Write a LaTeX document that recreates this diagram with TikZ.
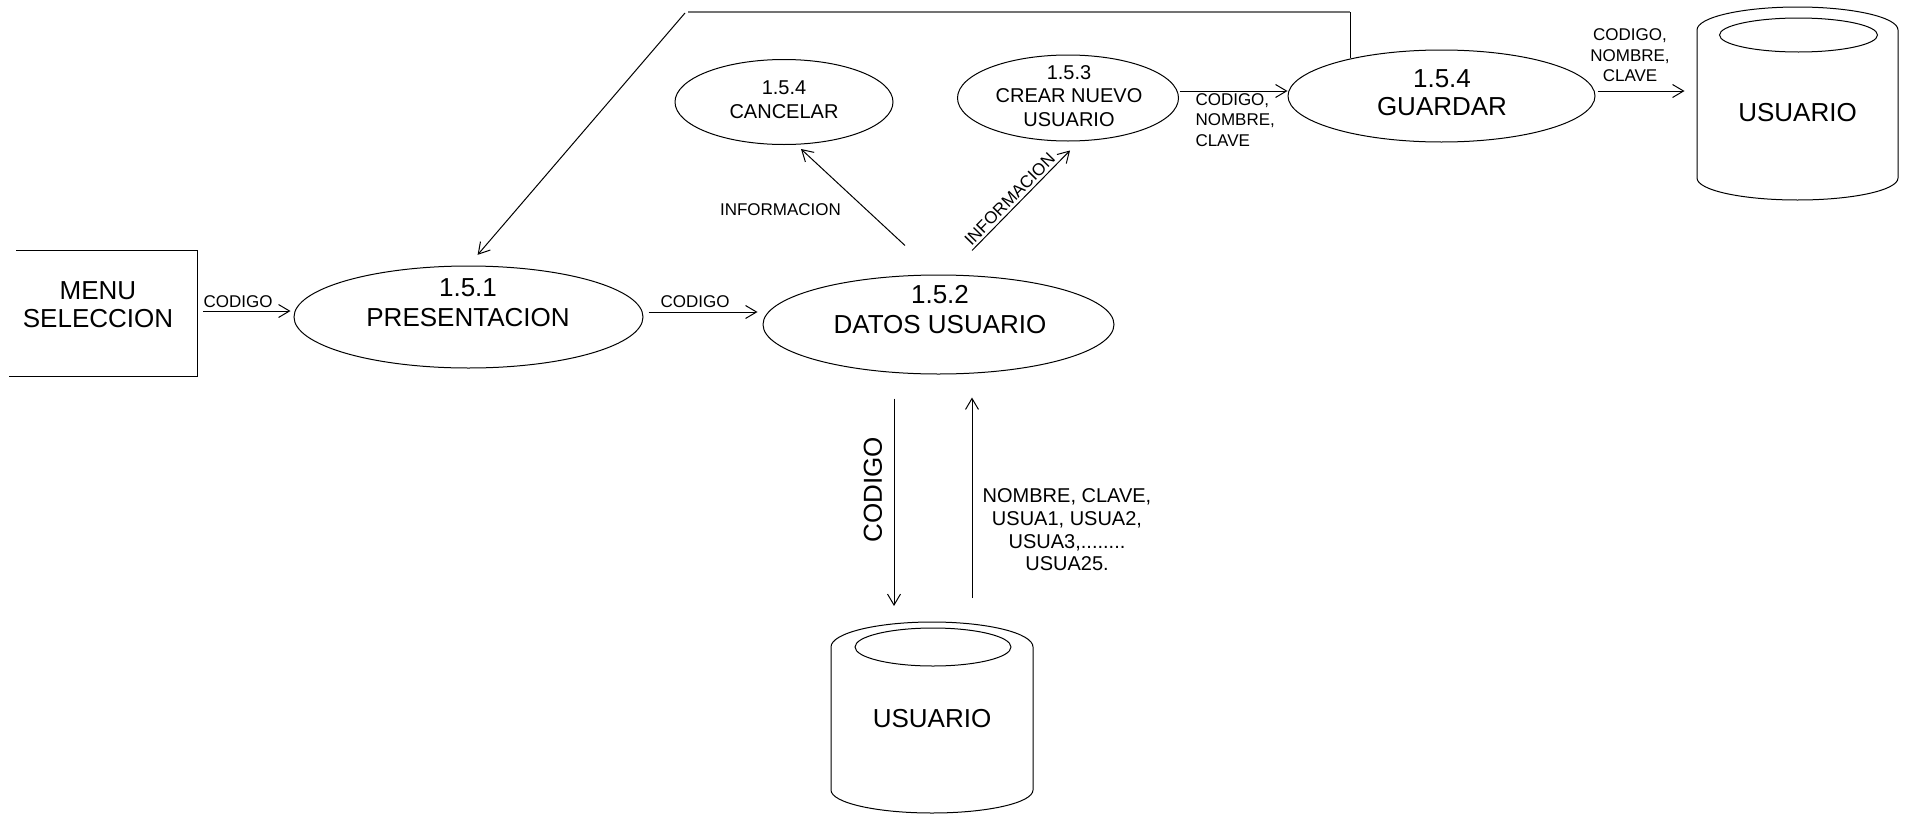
\documentclass[tikz,border=0pt]{standalone}
\usepackage{fontspec}
\setmainfont{Liberation Sans}
\usetikzlibrary{shapes.geometric,arrows.meta,calc}
\begin{document}
\begin{tikzpicture}[x=1pt,y=-1pt,line width=1pt,
  proc/.style={ellipse,draw,inner sep=0pt},
  boxarea/.style={rectangle,inner sep=0pt},
  arr/.style={-{Straight Barb[length=11pt,width=13pt]}},
  greyline/.style={draw=black!55,line width=1.6pt},
  big/.style={font=\fontsize{26}{29}\selectfont,align=center,inner sep=0pt},
  mid/.style={font=\fontsize{20}{23.5}\selectfont,align=center,inner sep=0pt},
  small/.style={font=\fontsize{17}{20.5}\selectfont,align=center,inner sep=0pt}]
\fill[white] (0,0) rectangle (1909,814);
\useasboundingbox (0,0) rectangle (1909,814);

% ---- process ellipses
\node[proc,minimum width=349pt,minimum height=102pt] (pres) at (468.5,317) {};
\node[proc,minimum width=351pt,minimum height=99pt] (datos) at (938.5,324.5) {};
\node[proc,minimum width=218pt,minimum height=85pt] (cancel) at (784,102) {};
\node[proc,minimum width=221pt,minimum height=86pt] (crear) at (1068,98) {};
\node[proc,minimum width=307pt,minimum height=92pt] (guardar) at (1441.5,96) {};

\node[big,font=\fontsize{26}{30}\selectfont] (prest) at (468,303) {1.5.1\\PRESENTACION};
\node[big,font=\fontsize{26}{30}\selectfont] (datost) at (940,310) {1.5.2\\DATOS USUARIO};
\node[mid,font=\fontsize{20}{24}\selectfont] (cancelt) at (784,100) {1.5.4\\CANCELAR};
\node[mid] (creart) at (1069,96) {1.5.3\\CREAR NUEVO\\USUARIO};
\node[big,font=\fontsize{26}{28}\selectfont] (guardart) at (1442,93) {1.5.4\\GUARDAR};

% ---- external entity
\node[boxarea,minimum width=187pt,minimum height=125pt] (menubox) at (103,313.5) {};
\draw ([xshift=7pt]menubox.north west) -- (menubox.north east) -- (menubox.south east) -- (menubox.south west);
\node[big,font=\fontsize{26}{28}\selectfont] (menut) at (98,305) {MENU\\SELECCION};

% ---- data stores
\node[boxarea,big,minimum width=202pt,minimum height=191pt] (db1) at (932,719) {USUARIO};
\draw (831,647) .. controls (831,633.2) and (876.2,622) .. (932,622)
      .. controls (987.8,622) and (1033,633.2) .. (1033,647)
      -- (1033,790) .. controls (1033,802.7) and (987.8,813) .. (932,813)
      .. controls (876.2,813) and (831,802.7) .. (831,790) -- cycle;
\draw (933,647) ellipse [x radius=78pt,y radius=19pt];

\node[boxarea,big,minimum width=201pt,minimum height=193pt] (db2) at (1797.5,113) {USUARIO};
\draw (1697,30) .. controls (1697,17.3) and (1742,7) .. (1797.5,7)
      .. controls (1853,7) and (1898,17.3) .. (1898,30)
      -- (1898,178) .. controls (1898,190.2) and (1853,200) .. (1797.5,200)
      .. controls (1742,200) and (1697,190.2) .. (1697,178) -- cycle;
\draw (1798.5,35) ellipse [x radius=79pt,y radius=17pt];

% ---- reference coordinates for connector heights
\coordinate (y1) at (0,311);
\coordinate (y2) at (0,312);
\coordinate (y5) at (0,91);
\coordinate (xd) at (894,0);
\coordinate (xu) at (972,0);
\coordinate (fbR) at (1350,12);
\coordinate (fbL) at (688,12);
\coordinate (fbD) at (685,13);

% ---- connectors
\draw[arr,shorten <=6pt,shorten >=3pt] (menubox.east |- y1) -- (pres.west |- y1);
\node[small] (l1) at (238,302) {CODIGO};

\draw[arr,shorten <=5pt,shorten >=5pt] (pres.east |- y2) -- (datos.west |- y2);
\node[small] (l2) at (695,302) {CODIGO};

\draw[arr] ($(datos.north)+(-33.5,-29)$) -- ($(cancel.south)+(17,4)$);
\node[small] (l3) at (780.5,209.5) {INFORMACION};

\draw[arr] ($(datos.north)+(33.5,-24)$) -- node[small,pos=0.45,sloped,above,inner sep=2.5pt] (l4) {INFORMACION} ($(crear.south)+(2,9)$);

\draw[arr,shorten <=0.5pt] (crear.east |- y5) -- (guardar.west |- y5);
\node[small,align=left,anchor=west] (l5) at (1195,120) {CODIGO,\\NOMBRE,\\CLAVE};

\draw[arr,shorten <=2pt,shorten >=12pt] (guardar.east |- y5) -- (db2.west |- y5);
\node[small] (l6) at (1630,55.5) {CODIGO,\\NOMBRE,\\CLAVE};

\draw (guardar.north -| fbR) ++(0,8) -- (fbR);
\draw[greyline] (fbR) -- (fbL);
\draw[arr,shorten >=14pt] (fbD) -- (pres.north);

\draw[arr,shorten <=24pt,shorten >=17pt] (datos.south -| xd) -- (db1.north -| xd);
\node[big,rotate=90] (l7) at (873,490) {CODIGO};

\draw[arr,shorten <=25pt,shorten >=23pt] (db1.north -| xu) -- (datos.south -| xu);
\node[mid,font=\fontsize{20}{22.7}\selectfont] (l8) at (1067,530) {NOMBRE, CLAVE,\\USUA1, USUA2,\\USUA3,........\\USUA25.};
\end{tikzpicture}
\end{document}
